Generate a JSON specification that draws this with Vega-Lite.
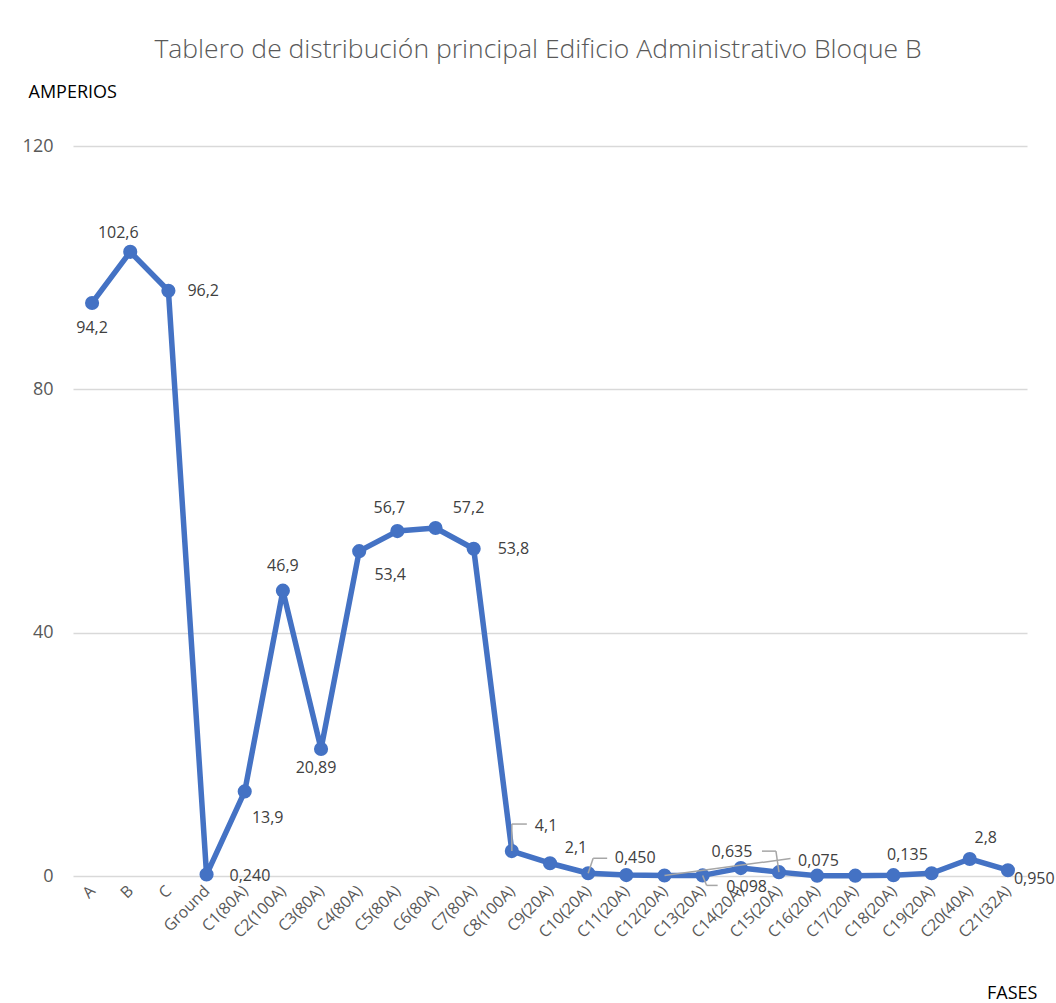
{
  "$schema": "https://vega.github.io/schema/vega-lite/v6.json",
  "width": 954,
  "height": 730,
  "autosize": "none",
  "padding": {"left": 73, "top": 146, "right": 29, "bottom": 127},
  "background": "white",
  "config": {
    "font": "Open Sans",
    "locale": {
      "number": {"decimal": ",", "thousands": ".", "grouping": [3], "currency": ["", " €"]}
    },
    "view": {"stroke": null},
    "text": {"font": "Open Sans", "fontSize": 16, "color": "#404040", "baseline": "middle"}
  },
  "title": {
    "text": "Tablero de distribución principal Edificio Administrativo Bloque B",
    "anchor": "middle",
    "frame": "group",
    "dx": -12,
    "offset": 20,
    "font": "Open Sans",
    "fontSize": 26.5,
    "fontWeight": 300,
    "color": "#595959"
  },
  "data": {
    "values": [
      {"fase": "A", "amperios": 94.2},
      {"fase": "B", "amperios": 102.6},
      {"fase": "C", "amperios": 96.2},
      {"fase": "Ground", "amperios": 0.24},
      {"fase": "C1(80A)", "amperios": 13.9},
      {"fase": "C2(100A)", "amperios": 46.9},
      {"fase": "C3(80A)", "amperios": 20.89},
      {"fase": "C4(80A)", "amperios": 53.4},
      {"fase": "C5(80A)", "amperios": 56.7},
      {"fase": "C6(80A)", "amperios": 57.2},
      {"fase": "C7(80A)", "amperios": 53.8},
      {"fase": "C8(100A)", "amperios": 4.1},
      {"fase": "C9(20A)", "amperios": 2.1},
      {"fase": "C10(20A)", "amperios": 0.45},
      {"fase": "C11(20A)", "amperios": 0.15},
      {"fase": "C12(20A)", "amperios": 0.075},
      {"fase": "C13(20A)", "amperios": 0.098},
      {"fase": "C14(20A)", "amperios": 1.3},
      {"fase": "C15(20A)", "amperios": 0.635},
      {"fase": "C16(20A)", "amperios": 0.05},
      {"fase": "C17(20A)", "amperios": 0.05},
      {"fase": "C18(20A)", "amperios": 0.135},
      {"fase": "C19(20A)", "amperios": 0.45},
      {"fase": "C20(40A)", "amperios": 2.8},
      {"fase": "C21(32A)", "amperios": 0.95}
    ]
  },
  "encoding": {
    "x": {
      "field": "fase",
      "type": "ordinal",
      "sort": null,
      "scale": {"type": "point", "padding": 0.5},
      "axis": {
        "title": "FASES",
        "titleFont": "Open Sans",
        "titleFontSize": 18,
        "titleFontWeight": "normal",
        "titleColor": "#000000",
        "titleAnchor": "end",
        "titleAlign": "right",
        "titleBaseline": "alphabetic",
        "titleX": 964,
        "titleY": 122,
        "labelAngle": -45,
        "labelAlign": "right",
        "labelBaseline": "middle",
        "labelPadding": 12,
        "labelFont": "Open Sans",
        "labelFontSize": 16,
        "labelColor": "#595959",
        "labelOverlap": false,
        "ticks": false,
        "domain": false,
        "grid": false
      }
    },
    "y": {
      "field": "amperios",
      "type": "quantitative",
      "scale": {"domain": [0, 120], "nice": false},
      "axis": {
        "title": "AMPERIOS",
        "titleFont": "Open Sans",
        "titleFontSize": 18,
        "titleFontWeight": "normal",
        "titleColor": "#000000",
        "titleAngle": 0,
        "titleAlign": "left",
        "titleBaseline": "middle",
        "titleX": -45,
        "titleY": -54,
        "values": [0, 40, 80, 120],
        "labelFont": "Open Sans",
        "labelFontSize": 18,
        "labelColor": "#595959",
        "labelPadding": 20,
        "ticks": false,
        "domain": false,
        "grid": true,
        "gridColor": "#d9d9d9",
        "gridWidth": 1.3
      }
    }
  },
  "layer": [
    {"mark": {"type": "line", "color": "#4472C4", "strokeWidth": 5.5, "strokeJoin": "round"}},
    {"mark": {"type": "circle", "color": "#4472C4", "size": 200, "opacity": 1}},

    {"transform": [{"filter": {"field": "fase", "equal": "C8(100A)"}}],
     "mark": {"type": "rule", "color": "#a6a6a6", "strokeWidth": 1.5, "y2Offset": -27},
     "encoding": {"y2": {"field": "amperios"}}},
    {"transform": [{"filter": {"field": "fase", "equal": "C8(100A)"}}],
     "mark": {"type": "rule", "color": "#a6a6a6", "strokeWidth": 1.5, "yOffset": -27, "x2Offset": 15},
     "encoding": {"x2": {"field": "fase"}}},

    {"transform": [{"filter": {"field": "fase", "equal": "C10(20A)"}}],
     "mark": {"type": "rule", "color": "#a6a6a6", "strokeWidth": 1.5, "x2Offset": 5, "y2Offset": -15},
     "encoding": {"x2": {"field": "fase"}, "y2": {"field": "amperios"}}},
    {"transform": [{"filter": {"field": "fase", "equal": "C10(20A)"}}],
     "mark": {"type": "rule", "color": "#a6a6a6", "strokeWidth": 1.5, "xOffset": 5, "yOffset": -15, "x2Offset": 19},
     "encoding": {"x2": {"field": "fase"}}},

    {"transform": [{"filter": {"field": "fase", "equal": "C12(20A)"}}],
     "mark": {"type": "rule", "color": "#a6a6a6", "strokeWidth": 1.5, "x2Offset": 126, "y2Offset": -17},
     "encoding": {"x2": {"field": "fase"}, "y2": {"field": "amperios"}}},

    {"transform": [{"filter": {"field": "fase", "equal": "C13(20A)"}}],
     "mark": {"type": "rule", "color": "#a6a6a6", "strokeWidth": 1.5, "x2Offset": 4, "y2Offset": 10},
     "encoding": {"x2": {"field": "fase"}, "y2": {"field": "amperios"}}},
    {"transform": [{"filter": {"field": "fase", "equal": "C13(20A)"}}],
     "mark": {"type": "rule", "color": "#a6a6a6", "strokeWidth": 1.5, "xOffset": 4, "yOffset": 10, "x2Offset": 15},
     "encoding": {"x2": {"field": "fase"}}},

    {"transform": [{"filter": {"field": "fase", "equal": "C15(20A)"}}],
     "mark": {"type": "rule", "color": "#a6a6a6", "strokeWidth": 1.5, "x2Offset": -3, "y2Offset": -21},
     "encoding": {"x2": {"field": "fase"}, "y2": {"field": "amperios"}}},
    {"transform": [{"filter": {"field": "fase", "equal": "C15(20A)"}}],
     "mark": {"type": "rule", "color": "#a6a6a6", "strokeWidth": 1.5, "xOffset": -3, "yOffset": -21, "x2Offset": -17},
     "encoding": {"x2": {"field": "fase"}}},

    {"transform": [{"filter": {"field": "fase", "equal": "A"}}],
     "mark": {"type": "text", "dx": 0, "dy": 25},
     "encoding": {"text": {"field": "amperios", "type": "quantitative", "format": ".1f"}}},
    {"transform": [{"filter": {"field": "fase", "equal": "B"}}],
     "mark": {"type": "text", "dx": -12, "dy": -19},
     "encoding": {"text": {"field": "amperios", "type": "quantitative", "format": ".1f"}}},
    {"transform": [{"filter": {"field": "fase", "equal": "C"}}],
     "mark": {"type": "text", "align": "left", "dx": 19, "dy": 0},
     "encoding": {"text": {"field": "amperios", "type": "quantitative", "format": ".1f"}}},
    {"transform": [{"filter": {"field": "fase", "equal": "Ground"}}],
     "mark": {"type": "text", "align": "left", "dx": 23, "dy": 1},
     "encoding": {"text": {"field": "amperios", "type": "quantitative", "format": ".3f"}}},
    {"transform": [{"filter": {"field": "fase", "equal": "C1(80A)"}}],
     "mark": {"type": "text", "dx": 23, "dy": 27},
     "encoding": {"text": {"field": "amperios", "type": "quantitative", "format": ".1f"}}},
    {"transform": [{"filter": {"field": "fase", "equal": "C2(100A)"}}],
     "mark": {"type": "text", "dx": 0, "dy": -25},
     "encoding": {"text": {"field": "amperios", "type": "quantitative", "format": ".1f"}}},
    {"transform": [{"filter": {"field": "fase", "equal": "C3(80A)"}}],
     "mark": {"type": "text", "dx": -5, "dy": 19},
     "encoding": {"text": {"field": "amperios", "type": "quantitative", "format": ".2f"}}},
    {"transform": [{"filter": {"field": "fase", "equal": "C4(80A)"}}],
     "mark": {"type": "text", "dx": 31, "dy": 24},
     "encoding": {"text": {"field": "amperios", "type": "quantitative", "format": ".1f"}}},
    {"transform": [{"filter": {"field": "fase", "equal": "C5(80A)"}}],
     "mark": {"type": "text", "dx": -8, "dy": -23},
     "encoding": {"text": {"field": "amperios", "type": "quantitative", "format": ".1f"}}},
    {"transform": [{"filter": {"field": "fase", "equal": "C6(80A)"}}],
     "mark": {"type": "text", "dx": 33, "dy": -20},
     "encoding": {"text": {"field": "amperios", "type": "quantitative", "format": ".1f"}}},
    {"transform": [{"filter": {"field": "fase", "equal": "C7(80A)"}}],
     "mark": {"type": "text", "align": "left", "dx": 24, "dy": 0},
     "encoding": {"text": {"field": "amperios", "type": "quantitative", "format": ".1f"}}},
    {"transform": [{"filter": {"field": "fase", "equal": "C8(100A)"}}],
     "mark": {"type": "text", "align": "left", "dx": 23, "dy": -25},
     "encoding": {"text": {"field": "amperios", "type": "quantitative", "format": ".1f"}}},
    {"transform": [{"filter": {"field": "fase", "equal": "C9(20A)"}}],
     "mark": {"type": "text", "dx": 26, "dy": -15},
     "encoding": {"text": {"field": "amperios", "type": "quantitative", "format": ".1f"}}},
    {"transform": [{"filter": {"field": "fase", "equal": "C10(20A)"}}],
     "mark": {"type": "text", "dx": 47, "dy": -15},
     "encoding": {"text": {"field": "amperios", "type": "quantitative", "format": ".3f"}}},
    {"transform": [{"filter": {"field": "fase", "equal": "C12(20A)"}}],
     "mark": {"type": "text", "dx": 154, "dy": -15},
     "encoding": {"text": {"field": "amperios", "type": "quantitative", "format": ".3f"}}},
    {"transform": [{"filter": {"field": "fase", "equal": "C13(20A)"}}],
     "mark": {"type": "text", "dx": 44, "dy": 12},
     "encoding": {"text": {"field": "amperios", "type": "quantitative", "format": ".3f"}}},
    {"transform": [{"filter": {"field": "fase", "equal": "C15(20A)"}}],
     "mark": {"type": "text", "dx": -47, "dy": -20},
     "encoding": {"text": {"field": "amperios", "type": "quantitative", "format": ".3f"}}},
    {"transform": [{"filter": {"field": "fase", "equal": "C18(20A)"}}],
     "mark": {"type": "text", "dx": 14, "dy": -20},
     "encoding": {"text": {"field": "amperios", "type": "quantitative", "format": ".3f"}}},
    {"transform": [{"filter": {"field": "fase", "equal": "C20(40A)"}}],
     "mark": {"type": "text", "dx": 16, "dy": -21},
     "encoding": {"text": {"field": "amperios", "type": "quantitative", "format": ".1f"}}},
    {"transform": [{"filter": {"field": "fase", "equal": "C21(32A)"}}],
     "mark": {"type": "text", "align": "left", "dx": 6, "dy": 9},
     "encoding": {"text": {"field": "amperios", "type": "quantitative", "format": ".3f"}}}
  ]
}
